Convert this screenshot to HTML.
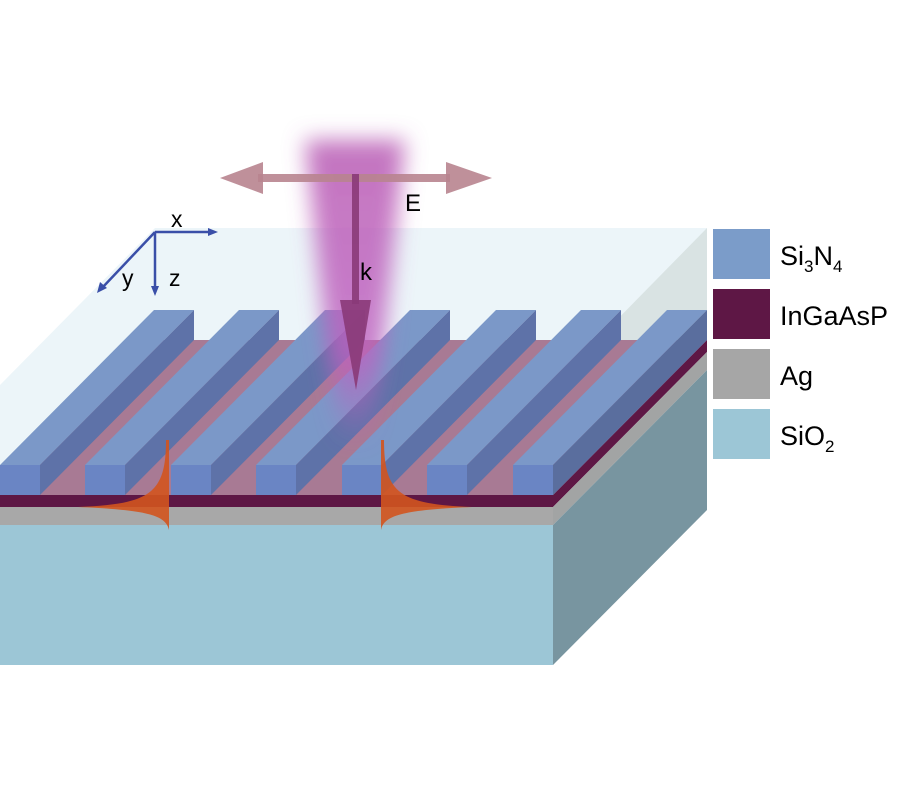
<!DOCTYPE html>
<html><head><style>html,body{margin:0;padding:0;background:#fff;width:900px;height:800px;overflow:hidden}</style></head>
<body>
<svg width="900" height="800" viewBox="0 0 900 800" xmlns="http://www.w3.org/2000/svg" font-family="Liberation Sans, Arial, sans-serif">
<defs>
<filter id="blur" x="-50%" y="-20%" width="200%" height="140%"><feGaussianBlur stdDeviation="11"/></filter>
<linearGradient id="bg" x1="0" y1="0" x2="0" y2="1">
<stop offset="0" stop-color="#b85cb4" stop-opacity="0.85"/>
<stop offset="0.7" stop-color="#c060c0" stop-opacity="0.8"/>
<stop offset="1" stop-color="#c060c0" stop-opacity="0"/>
</linearGradient>
</defs>
<polygon points="0,465 0,385 155,228 707,228 707,340 553,495" fill="#ecf5f9"/>
<polygon points="553,385 707,228 707,340 553,495" fill="#d9e3e3"/>
<polygon points="0,495 553,495 707,340 154,340" fill="#a87a94"/>
<rect x="0" y="495" width="553" height="12" fill="#5e1745"/>
<rect x="0" y="507" width="553" height="18" fill="#a8a8a8"/>
<rect x="0" y="525" width="553" height="140" fill="#9cc6d6"/>
<polygon points="553,495 707,340 707,352 553,507" fill="#5e1745"/>
<polygon points="553,507 707,352 707,370 553,525" fill="#a2a4a4"/>
<polygon points="553,525 707,370 707,510 553,665" fill="#7895a0"/>
<g>
<polygon points="0,465 40,465 194,310 154,310" fill="#7b98c8"/><polygon points="40,465 40,495 194,340 194,310" fill="#5e72a8"/><rect x="0" y="465" width="40" height="30" fill="#6a85c4"/>
<polygon points="85,465 125,465 279,310 239,310" fill="#7b98c8"/><polygon points="125,465 125,495 279,340 279,310" fill="#5e72a8"/><rect x="85" y="465" width="40" height="30" fill="#6a85c4"/>
<polygon points="171,465 211,465 365,310 325,310" fill="#7b98c8"/><polygon points="211,465 211,495 365,340 365,310" fill="#5e72a8"/><rect x="171" y="465" width="40" height="30" fill="#6a85c4"/>
<polygon points="256,465 296,465 450,310 410,310" fill="#7b98c8"/><polygon points="296,465 296,495 450,340 450,310" fill="#5e72a8"/><rect x="256" y="465" width="40" height="30" fill="#6a85c4"/>
<polygon points="342,465 382,465 536,310 496,310" fill="#7b98c8"/><polygon points="382,465 382,495 536,340 536,310" fill="#5e72a8"/><rect x="342" y="465" width="40" height="30" fill="#6a85c4"/>
<polygon points="427,465 467,465 621,310 581,310" fill="#7b98c8"/><polygon points="467,465 467,495 621,340 621,310" fill="#5e72a8"/><rect x="427" y="465" width="40" height="30" fill="#6a85c4"/>
<polygon points="513,465 553,465 707,310 667,310" fill="#7b98c8"/><polygon points="553,465 553,495 707,340 707,310" fill="#5a6e9e"/><rect x="513" y="465" width="40" height="30" fill="#6a85c4"/>
</g>
<polygon points="305,140 405,140 385,330 370,445 340,445 325,330" fill="url(#bg)" filter="url(#blur)"/>
<g fill="#b8848f" fill-opacity="0.9">
<rect x="258" y="174" width="192" height="8"/>
<polygon points="220,178 263,162 263,194"/>
<polygon points="492,178 446,162 446,194"/>
</g>
<rect x="352" y="174" width="7" height="130" fill="#8a3a78" fill-opacity="0.9"/>
<polygon points="340,300 371,300 356,390" fill="#8a3a78" fill-opacity="0.9"/>
<text x="405" y="211" font-size="24">E</text>
<text x="360" y="280" font-size="24">k</text>
<g stroke="#3a4fa8" stroke-width="2.5" fill="#3a4fa8">
<line x1="155" y1="232" x2="212" y2="232"/><polygon points="218,232 208,228 208,236" stroke="none"/>
<line x1="155" y1="232" x2="155" y2="290"/><polygon points="155,296 151,286 159,286" stroke="none"/>
<line x1="155" y1="232" x2="102" y2="288"/><polygon points="97,293 100,282 107,288" stroke="none"/>
</g>
<text x="171" y="227" font-size="23">x</text>
<text x="122" y="286" font-size="23">y</text>
<text x="169" y="286" font-size="23">z</text>
<g fill="#d2541e" fill-opacity="0.9">
<path d="M169,440 L169,530 C166,516 150,510 78,507 C150,504 166,494 166,440 Z"/>
<path d="M381,440 L381,530 C384,516 400,510 472,507 C400,504 384,494 384,440 Z"/>
</g>
<rect x="713" y="229" width="57" height="50" fill="#7b9cc9"/>
<rect x="713" y="289" width="57" height="50" fill="#5e1745"/>
<rect x="713" y="349" width="57" height="50" fill="#a6a6a6"/>
<rect x="713" y="409" width="57" height="50" fill="#9cc6d6"/>
<text x="780" y="265" font-size="27">Si<tspan font-size="17" dy="7">3</tspan><tspan dy="-7">N</tspan><tspan font-size="17" dy="7">4</tspan></text>
<text x="780" y="325" font-size="27">InGaAsP</text>
<text x="780" y="385" font-size="27">Ag</text>
<text x="780" y="445" font-size="27">SiO<tspan font-size="17" dy="7">2</tspan></text>
</svg>
</body></html>
